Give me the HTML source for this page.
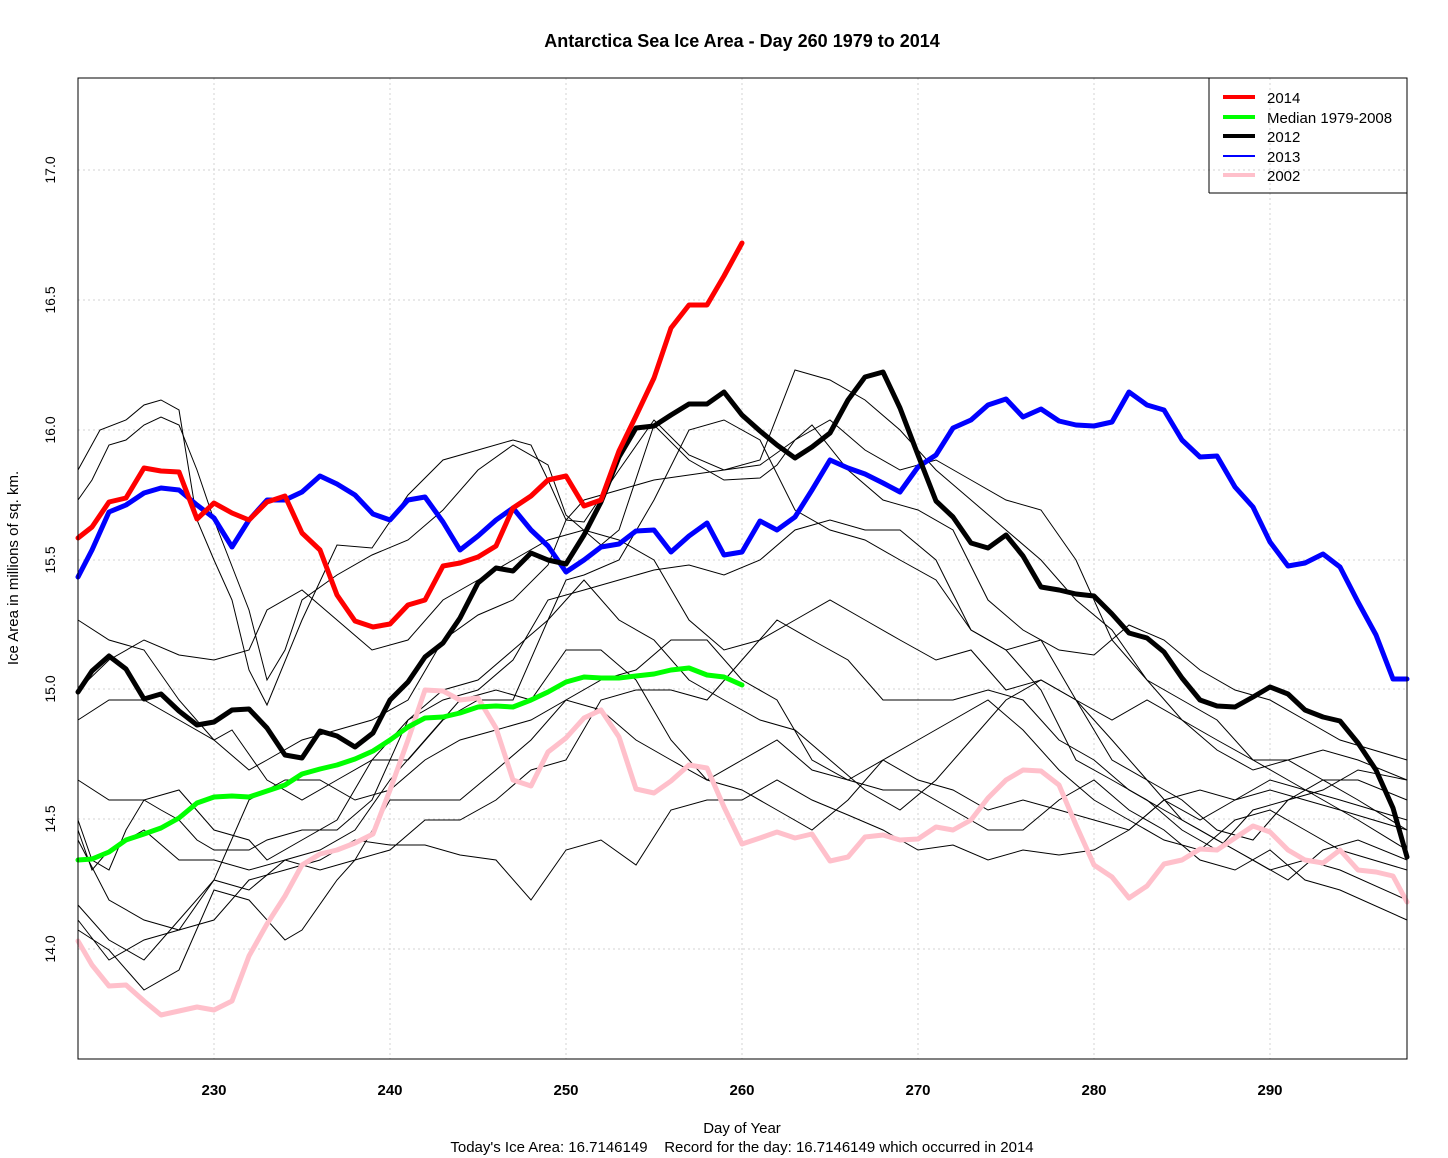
<!DOCTYPE html>
<html><head><meta charset="utf-8"><style>body{margin:0;background:#fff}svg{display:block}</style></head><body>
<svg width="1448" height="1158" xmlns="http://www.w3.org/2000/svg" font-family="Liberation Sans, sans-serif">
<rect width="1448" height="1158" fill="#fff"/>
<g stroke="#d3d3d3" stroke-dasharray="2,3" stroke-width="1">
<line x1="214" y1="78" x2="214" y2="1059"/><line x1="390" y1="78" x2="390" y2="1059"/><line x1="566" y1="78" x2="566" y2="1059"/><line x1="742" y1="78" x2="742" y2="1059"/><line x1="918" y1="78" x2="918" y2="1059"/><line x1="1094" y1="78" x2="1094" y2="1059"/><line x1="1270" y1="78" x2="1270" y2="1059"/>
<line x1="78" y1="949" x2="1407" y2="949"/><line x1="78" y1="819" x2="1407" y2="819"/><line x1="78" y1="689" x2="1407" y2="689"/><line x1="78" y1="560" x2="1407" y2="560"/><line x1="78" y1="430" x2="1407" y2="430"/><line x1="78" y1="300" x2="1407" y2="300"/><line x1="78" y1="170" x2="1407" y2="170"/>
</g>
<g fill="none" stroke="#000" stroke-width="1">
<polyline points="78,470 100,430 126,420 144,405 161,400 179,410 197,520 214,560 232,600 249,670 267,705 302,620 337,545 372,548 408,495 443,460 478,450 513,440 531,445 548,480 566,520 584,522 619,470 654,420 689,455 724,470 760,460 795,370 830,380 865,400 900,430 936,470 971,500 1006,530 1041,560 1076,600 1112,630 1147,680 1182,700 1217,720 1253,760 1288,780 1323,800 1358,820 1407,850"/>
<polyline points="78,500 92,480 109,445 126,440 144,425 161,417 179,425 197,470 214,520 249,610 267,680 285,650 302,600 337,575 372,555 408,540 443,510 478,470 513,445 548,465 566,515 601,545 619,530 654,425 689,460 724,480 760,478 777,465 795,440 812,425 848,470 883,500 918,510 953,530 988,600 1023,630 1059,650 1094,655 1129,625 1164,640 1200,670 1235,690 1270,700 1305,720 1340,740 1407,760"/>
<polyline points="78,620 109,640 144,650 179,700 214,740 249,770 267,760 302,740 337,730 372,720 408,700 443,640 478,615 513,600 548,565 566,520 584,500 619,490 654,480 689,475 724,470 760,465 795,440 830,420 865,450 900,470 936,460 971,480 1006,500 1041,510 1076,560 1112,640 1147,680 1182,720 1217,750 1253,770 1288,760 1323,750 1358,760 1407,780"/>
<polyline points="78,690 109,660 144,640 179,655 214,660 249,650 267,610 302,590 337,620 372,650 408,640 443,600 478,580 513,560 548,540 584,530 619,540 654,560 689,620 724,650 760,640 795,620 830,600 865,620 900,640 936,660 971,650 1006,690 1041,680 1076,700 1112,720 1147,700 1182,720 1217,740 1253,760 1288,760 1323,780 1358,780 1407,800"/>
<polyline points="78,720 109,700 144,700 179,720 214,740 232,730 267,780 302,800 337,780 372,760 408,760 443,720 478,700 513,700 548,620 566,580 584,575 619,560 654,500 689,430 724,420 760,440 795,510 830,530 865,540 900,560 936,580 971,630 1006,650 1041,640 1076,700 1112,760 1147,780 1182,800 1217,830 1253,840 1288,800 1323,790 1358,770 1407,780"/>
<polyline points="78,780 109,800 144,800 179,790 214,830 249,840 267,860 302,840 337,820 372,760 408,720 443,700 478,690 513,660 548,600 584,590 619,580 654,570 689,565 724,575 760,560 795,530 830,520 865,530 900,530 936,560 971,630 1006,650 1041,690 1076,760 1112,780 1147,800 1182,830 1217,850 1253,810 1288,800 1323,780 1358,800 1407,830"/>
<polyline points="78,820 92,860 109,870 126,830 144,800 161,810 179,820 197,840 214,850 249,850 267,840 302,830 337,830 372,800 408,720 443,690 478,680 513,650 548,620 584,580 619,620 654,640 689,680 724,700 760,720 795,730 830,760 865,790 900,810 936,780 971,740 1006,700 1041,680 1076,700 1112,740 1147,780 1182,820 1217,840 1253,860 1288,880 1323,850 1358,840 1407,860"/>
<polyline points="78,830 92,870 109,850 144,830 179,860 214,860 249,870 285,860 320,870 355,860 390,850 425,820 460,820 496,800 531,770 566,760 601,700 636,690 671,690 707,700 742,660 777,620 812,640 848,660 883,700 918,700 953,700 988,690 1023,700 1059,740 1094,760 1129,790 1164,810 1200,830 1235,850 1270,870 1305,860 1340,870 1407,900"/>
<polyline points="78,840 109,900 144,920 179,930 214,880 249,800 285,780 320,780 355,800 390,790 425,760 460,740 496,730 531,720 566,700 601,710 636,740 671,760 707,780 742,760 777,740 812,770 848,780 883,760 918,780 953,790 988,810 1023,800 1059,810 1094,820 1129,830 1164,800 1200,790 1235,800 1270,790 1305,800 1340,810 1407,830"/>
<polyline points="78,905 109,940 144,960 179,920 214,880 249,890 285,860 320,850 355,830 390,780 425,740 460,700 496,690 531,700 566,650 601,650 636,680 671,740 707,780 742,790 777,810 812,830 848,800 883,760 918,740 953,720 988,700 1023,730 1059,770 1094,800 1129,820 1164,840 1200,850 1235,820 1270,810 1305,830 1340,850 1407,870"/>
<polyline points="78,920 109,960 144,940 179,930 214,920 249,880 285,870 320,860 355,840 390,845 425,845 460,855 496,860 531,900 566,850 601,840 636,865 671,810 707,800 742,800 777,780 812,800 848,815 883,830 918,850 953,845 988,860 1023,850 1059,855 1094,850 1129,830 1164,800 1200,820 1235,800 1270,780 1305,790 1340,800 1407,820"/>
<polyline points="78,930 109,950 144,990 179,970 214,890 249,900 285,940 302,930 337,880 355,860 390,800 425,800 460,800 496,770 531,740 566,700 601,680 636,670 671,640 707,640 742,680 777,700 812,760 848,780 883,790 918,790 953,810 988,830 1023,830 1059,800 1094,780 1129,810 1164,830 1200,860 1235,870 1270,850 1305,880 1340,890 1407,920"/>
</g>
<g fill="none" stroke-linejoin="round" stroke-linecap="round">
<polyline stroke="#ffc0cb" stroke-width="5" points="78,941 92,965 109,986 126,985 144,1001 161,1015 179,1011 197,1007 214,1010 232,1001 249,956 267,924 285,896 302,865 320,854 337,850 355,843 373,834 390,790 408,740 425,690 443,691 460,700 478,698 496,728 513,780 531,786 548,752 566,738 584,718 601,710 619,737 636,789 654,793 671,781 689,765 707,768 724,807 742,844 760,838 777,832 795,838 812,834 830,861 848,857 865,837 883,835 900,840 918,839 936,827 953,830 971,820 988,798 1006,780 1023,770 1041,771 1059,785 1076,825 1094,865 1112,877 1129,898 1147,886 1164,864 1182,860 1200,849 1217,850 1235,838 1253,826 1270,832 1288,850 1305,860 1323,863 1340,850 1358,870 1376,872 1393,876 1407,902"/>
<polyline stroke="#0000ff" stroke-width="5" points="78,577 92,550 109,512 126,505 144,493 161,488 179,490 197,505 214,518 232,547 249,520 267,500 285,500 302,492 320,476 337,484 355,495 373,514 390,520 408,500 425,497 443,522 460,550 478,536 496,520 513,508 531,530 548,546 566,572 584,560 601,547 619,544 636,531 654,530 671,552 689,536 707,523 724,555 742,552 760,521 777,530 795,517 812,490 830,460 848,468 865,474 883,483 900,492 918,467 936,455 953,428 971,420 988,405 1006,399 1023,417 1041,409 1059,421 1076,425 1094,426 1112,422 1129,392 1147,405 1164,410 1182,440 1200,457 1217,456 1235,487 1253,507 1270,542 1288,566 1305,563 1323,554 1340,567 1358,602 1376,635 1393,679 1407,679"/>
<polyline stroke="#000" stroke-width="5" points="78,692 92,671 109,656 126,669 144,699 161,694 179,711 197,725 214,722 232,710 249,709 267,728 285,755 302,758 320,731 337,736 355,747 373,733 390,700 408,682 425,657 443,643 460,618 478,583 496,568 513,571 531,553 548,560 566,564 584,535 601,502 619,457 636,428 654,426 671,415 689,404 707,404 724,392 742,415 760,431 777,445 795,458 812,447 830,433 848,400 865,377 883,372 900,408 918,455 936,501 953,517 971,543 988,548 1006,535 1023,556 1041,587 1059,590 1076,594 1094,596 1112,614 1129,633 1147,638 1164,652 1182,678 1200,700 1217,706 1235,707 1253,697 1270,687 1288,694 1305,710 1323,717 1340,721 1358,743 1376,770 1393,808 1407,857"/>
<polyline stroke="#00ff00" stroke-width="5" points="78,860 92,859 109,852 126,840 144,834 161,828 179,818 197,803 214,797 232,796 249,797 267,791 285,785 302,774 320,769 337,765 355,759 373,751 390,740 408,727 425,718 443,717 460,713 478,707 496,706 513,707 531,700 548,692 566,682 584,677 601,678 619,678 636,676 654,674 671,670 689,668 707,675 724,677 742,685"/>
<polyline stroke="#ff0000" stroke-width="5" points="78,538 92,527 109,502 126,498 144,468 161,471 179,472 197,519 214,503 232,513 249,520 267,502 285,496 302,533 320,550 337,595 355,621 373,627 390,624 408,605 425,600 443,566 460,563 478,557 496,546 513,508 531,496 548,480 566,476 584,506 601,500 619,451 636,416 654,378 671,328 689,305 707,305 724,276 742,243"/>
</g>
<rect x="78" y="78" width="1329" height="981" fill="none" stroke="#000" stroke-width="1"/>
<g stroke="#000"><line x1="1209" y1="78" x2="1209" y2="193"/><line x1="1209" y1="193" x2="1407" y2="193"/></g>
<g stroke-width="4"><line x1="1223" y1="97" x2="1255" y2="97" stroke="#ff0000"/><line x1="1223" y1="117" x2="1255" y2="117" stroke="#00ff00"/><line x1="1223" y1="136" x2="1255" y2="136" stroke="#000"/><line x1="1223" y1="156" x2="1255" y2="156" stroke="#0000ff" stroke-width="2"/><line x1="1223" y1="175" x2="1255" y2="175" stroke="#ffc0cb"/></g>
<g font-size="15" fill="#000"><text x="1267" y="103">2014</text><text x="1267" y="123">Median 1979-2008</text><text x="1267" y="142">2012</text><text x="1267" y="162">2013</text><text x="1267" y="181">2002</text></g>
<text x="742" y="47" text-anchor="middle" font-size="18" font-weight="bold">Antarctica Sea Ice Area - Day 260 1979 to 2014</text>
<g font-size="15" font-weight="bold" text-anchor="middle"><text x="214" y="1095">230</text><text x="390" y="1095">240</text><text x="566" y="1095">250</text><text x="742" y="1095">260</text><text x="918" y="1095">270</text><text x="1094" y="1095">280</text><text x="1270" y="1095">290</text></g>
<g font-size="14" text-anchor="middle"><text transform="translate(55,949) rotate(-90)">14.0</text><text transform="translate(55,819) rotate(-90)">14.5</text><text transform="translate(55,689) rotate(-90)">15.0</text><text transform="translate(55,560) rotate(-90)">15.5</text><text transform="translate(55,430) rotate(-90)">16.0</text><text transform="translate(55,300) rotate(-90)">16.5</text><text transform="translate(55,170) rotate(-90)">17.0</text></g>
<text transform="translate(18,568) rotate(-90)" text-anchor="middle" font-size="15">Ice Area in millions of sq. km.</text>
<text x="742" y="1133" text-anchor="middle" font-size="15">Day of Year</text>
<text x="742" y="1152" text-anchor="middle" font-size="15">Today's Ice Area: 16.7146149&#160;&#160;&#160;&#160;Record for the day: 16.7146149 which occurred in 2014</text>
</svg>
</body></html>
